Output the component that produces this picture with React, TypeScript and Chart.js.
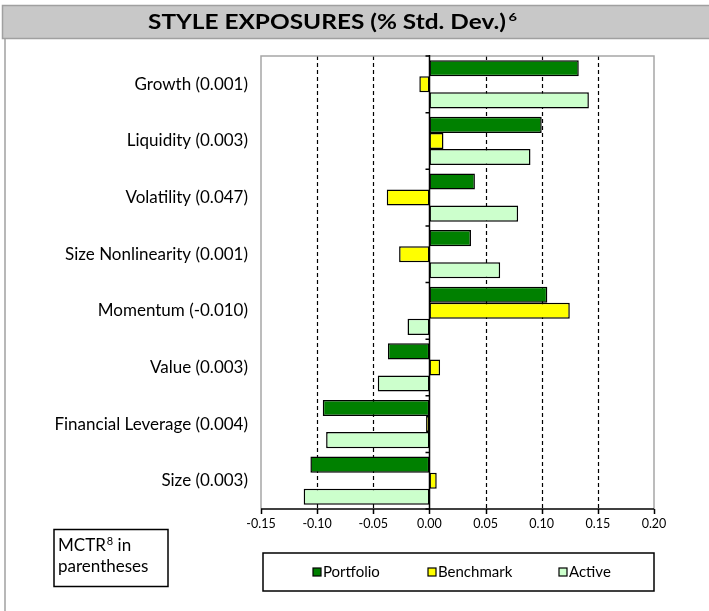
import React, { useEffect, useRef } from "react";
import { Chart, registerables } from "chart.js";

Chart.register(...registerables);

const categories = [
  "Growth (0.001)",
  "Liquidity (0.003)",
  "Volatility (0.047)",
  "Size Nonlinearity (0.001)",
  "Momentum (-0.010)",
  "Value (0.003)",
  "Financial Leverage (0.004)",
  "Size (0.003)",
];
const portfolio = [0.133, 0.1, 0.0405, 0.037, 0.105, -0.037, -0.095, -0.106];
const benchmark = [-0.009, 0.0125, -0.038, -0.027, 0.125, 0.0095, -0.003, 0.0065];
const active = [0.142, 0.09, 0.079, 0.063, -0.0195, -0.046, -0.092, -0.112];
const seriesNames = ["Portfolio", "Benchmark", "Active"];
const seriesColors = ["#008000", "#FFFF00", "#CCFFCC"];
const xMin = -0.15;
const xMax = 0.2;
const xStep = 0.05;
const titleText = "STYLE EXPOSURES (% Std. Dev.)";
const titleSup = "6";

const FONT = "Lato, 'DejaVu Sans', sans-serif";
const TITLE_FONT = "Lato, 'Open Sans', sans-serif";

const decor = {
  id: "decor",
  beforeDatasetsDraw(chart: any) {
    const ctx = chart.ctx;
    const a = chart.chartArea;
    const xs = chart.scales.x;
    ctx.save();
    ctx.strokeStyle = "#000";
    ctx.lineWidth = 1.2;
    ctx.setLineDash([4, 3]);
    ctx.beginPath();
    for (let v = xMin + xStep; v < xMax - 1e-9; v += xStep) {
      if (Math.abs(v) < 1e-9) continue;
      const px = Math.round(xs.getPixelForValue(v)) + 0.5;
      ctx.moveTo(px, a.top);
      ctx.lineTo(px, a.bottom);
    }
    ctx.stroke();
    ctx.setLineDash([]);
    ctx.strokeStyle = "#A6A6A6";
    ctx.lineWidth = 1.5;
    ctx.beginPath();
    ctx.moveTo(a.left, a.bottom);
    ctx.lineTo(a.left, a.top);
    ctx.lineTo(a.right, a.top);
    ctx.lineTo(a.right, a.bottom);
    ctx.stroke();
    ctx.restore();
  },
  afterDatasetsDraw(chart: any) {
    const ctx = chart.ctx;
    const a = chart.chartArea;
    const xs = chart.scales.x;
    const ys = chart.scales.y;
    ctx.save();
    const x0 = Math.round(xs.getPixelForValue(0)) + 0.5;
    ctx.strokeStyle = "#000";
    ctx.lineWidth = 1.5;
    ctx.beginPath();
    ctx.moveTo(x0, a.top - 1);
    ctx.lineTo(x0, a.bottom);
    ctx.stroke();
    const n = categories.length;
    const bounds: number[] = [a.top];
    for (let i = 0; i < n - 1; i++) {
      bounds.push((ys.getPixelForValue(i) + ys.getPixelForValue(i + 1)) / 2);
    }
    bounds.push(a.bottom);
    ctx.beginPath();
    for (const b of bounds) {
      ctx.moveTo(x0 - 4, b);
      ctx.lineTo(x0, b);
    }
    ctx.stroke();
    ctx.beginPath();
    for (let v = xMin; v <= xMax + 1e-9; v += xStep) {
      const px = Math.round(xs.getPixelForValue(v)) + 0.5;
      ctx.moveTo(px, a.bottom);
      ctx.lineTo(px, a.bottom + 5);
    }
    ctx.stroke();
    ctx.beginPath();
    ctx.moveTo(a.left, a.bottom);
    ctx.lineTo(a.right, a.bottom);
    ctx.stroke();
    ctx.restore();
  },
  afterDraw(chart: any) {
    const ctx = chart.ctx;
    ctx.save();
    ctx.fillStyle = "#C8C8C8";
    ctx.fillRect(2, 5, 707, 34);
    ctx.strokeStyle = "#A0A0A0";
    ctx.lineWidth = 1.5;
    ctx.beginPath();
    ctx.moveTo(712, 5.5);
    ctx.lineTo(2.5, 5.5);
    ctx.lineTo(2.5, 38.5);
    ctx.lineTo(712, 38.5);
    ctx.stroke();
    ctx.beginPath();
    ctx.moveTo(5, 38.5);
    ctx.lineTo(5, 611);
    ctx.stroke();
    // title text, fitted to width
    ctx.fillStyle = "#000";
    ctx.textBaseline = "alphabetic";
    ctx.textAlign = "left";
    ctx.font = `bold 20px ${TITLE_FONT}`;
    const target = 358;
    const w = ctx.measureText(titleText).width;
    const sx = target / w;
    const tx = 148;
    ctx.save();
    ctx.translate(tx, 29);
    ctx.scale(sx, 1);
    ctx.fillText(titleText, 0, 0);
    ctx.font = `bold 12px ${TITLE_FONT}`;
    ctx.fillText(titleSup, w + 2, -8);
    ctx.restore();

    // MCTR box
    ctx.strokeStyle = "#000";
    ctx.lineWidth = 1.5;
    ctx.strokeRect(54, 529.5, 114, 57);
    ctx.fillStyle = "#000";
    ctx.font = `17px ${FONT}`;
    ctx.fillText("MCTR", 58, 551);
    const mw = ctx.measureText("MCTR").width;
    ctx.font = `11px ${FONT}`;
    ctx.fillText("8", 58 + mw + 1, 545);
    const sw = ctx.measureText("8").width;
    ctx.font = `17px ${FONT}`;
    ctx.fillText(" in", 58 + mw + 1 + sw, 551);
    ctx.fillText("parentheses", 58, 572);

    // legend box
    ctx.strokeRect(263, 553, 391, 38);
    const lx = [313, 428, 559];
    ctx.font = `15px ${FONT}`;
    ctx.textBaseline = "middle";
    for (let i = 0; i < seriesNames.length; i++) {
      ctx.fillStyle = seriesColors[i];
      ctx.fillRect(lx[i], 568, 8, 8);
      ctx.lineWidth = 1.2;
      ctx.strokeStyle = "#000";
      ctx.strokeRect(lx[i], 568, 8, 8);
      ctx.fillStyle = "#000";
      ctx.fillText(seriesNames[i], lx[i] + 10, 572);
    }
    ctx.restore();
  },
};

export default function App() {
  const ref = useRef<HTMLCanvasElement | null>(null);
  useEffect(() => {
    if (!ref.current) return;
    const data = [portfolio, benchmark, active];
    const chart = new Chart(ref.current, {
      type: "bar",
      data: {
        labels: categories,
        datasets: data.map((d, i) => ({
          label: seriesNames[i],
          data: d,
          backgroundColor: seriesColors[i],
          borderColor: "#000",
          borderWidth: 1.5,
          borderSkipped: false,
          categoryPercentage: 0.85,
          barPercentage: 1.0,
        })),
      },
      options: {
        indexAxis: "y",
        responsive: false,
        animation: false,
        devicePixelRatio: 1,
        layout: { padding: { top: 56, right: 55, left: 0, bottom: 0 } },
        plugins: {
          legend: { display: false },
          tooltip: { enabled: false },
          title: { display: false },
        },
        scales: {
          x: {
            type: "linear",
            min: xMin,
            max: xMax,
            ticks: {
              stepSize: xStep,
              color: "#000",
              font: { family: FONT, size: 12.5 },
              padding: 7,
              callback: (v: any) => Number(v).toFixed(2),
            },
            grid: { display: false, drawTicks: false },
            border: { display: false },
            afterFit: (s: any) => {
              s.height = 102;
            },
          },
          y: {
            type: "category",
            ticks: {
              color: "#000",
              font: { family: FONT, size: 17 },
              padding: 13,
            },
            grid: { display: false, drawTicks: false },
            border: { display: false },
            afterFit: (s: any) => {
              s.width = 261;
            },
          },
        },
      },
      plugins: [decor],
    } as any);
    return () => chart.destroy();
  }, []);
  return (
    <div style={{ position: "absolute", left: 0, top: 0, width: 709, height: 611, background: "#fff" }}>
      <canvas ref={ref} width={709} height={611} style={{ display: "block" }} />
    </div>
  );
}
